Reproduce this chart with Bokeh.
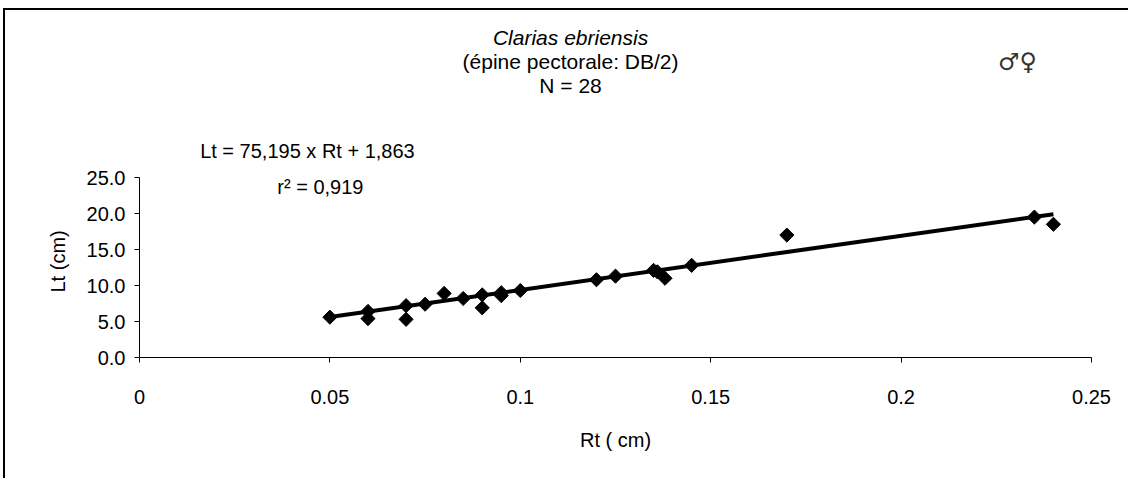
import numpy as np
from bokeh.plotting import figure
from bokeh.layouts import column, row
from bokeh.models import Range1d, FixedTicker, Label, ColumnDataSource, Spacer, Title
from bokeh.embed import file_html
from bokeh.resources import INLINE

# ---- data ----
rt = [0.050, 0.060, 0.060, 0.070, 0.070, 0.075, 0.080, 0.085, 0.090, 0.090,
      0.095, 0.095, 0.100, 0.120, 0.125, 0.135, 0.136, 0.138, 0.145, 0.170,
      0.235, 0.240]
lt = [5.6, 6.4, 5.4, 7.2, 5.3, 7.4, 8.9, 8.2, 8.7, 6.9,
      8.6, 9.0, 9.3, 10.8, 11.3, 12.1, 11.9, 11.0, 12.8, 17.0,
      19.5, 18.5]
slope = 75.195
intercept = 1.863
r_squared = "0,919"
x_ticks = [0, 0.05, 0.1, 0.15, 0.2, 0.25]
x_tick_labels = ["0", "0.05", "0.1", "0.15", "0.2", "0.25"]
y_ticks = [0, 5, 10, 15, 20, 25]
y_tick_labels = ["0.0", "5.0", "10.0", "15.0", "20.0", "25.0"]
title_lines = ["Clarias ebriensis", "(épine pectorale: DB/2)", "N = 28"]
equation = "Lt = 75,195 x Rt + 1,863"
x_title = "Rt ( cm)"
y_title = "Lt (cm)"

FONT = "Liberation Sans"

# layout: the frame reaches the top of the canvas so that the header texts
# can sit inside it; the y axis itself is bounded to 0..25
FRAME_H = 347
AXIS_H = 180
y_top = y_ticks[-1] * FRAME_H / AXIS_H

p = figure(width=1125, height=470, output_backend="svg", toolbar_location=None,
           x_range=Range1d(0, x_ticks[-1]), y_range=Range1d(0, y_top),
           min_border_left=134, min_border_right=39,
           min_border_top=0, min_border_bottom=123)
p.styles = {"border-top": "2px solid black", "border-left": "2px solid black"}
p.background_fill_color = "white"
p.border_fill_color = "white"
p.outline_line_color = None
p.grid.visible = False

for ax in (p.xaxis[0], p.yaxis[0]):
    ax.axis_line_color = "black"
    ax.axis_line_width = 1
    ax.major_tick_line_color = "black"
    ax.major_tick_in = 0
    ax.major_tick_out = 5
    ax.minor_tick_line_color = None
    ax.major_label_text_font = FONT
    ax.major_label_text_font_size = "20px"
    ax.major_label_text_color = "black"
    ax.axis_label_text_font = FONT
    ax.axis_label_text_font_size = "20px"
    ax.axis_label_text_font_style = "normal"
    ax.axis_label_text_color = "black"

p.yaxis.bounds = (y_ticks[0], y_ticks[-1])
p.xaxis.ticker = FixedTicker(ticks=x_ticks)
p.xaxis.major_label_overrides = {t: l for t, l in zip(x_ticks, x_tick_labels)}
p.yaxis.ticker = FixedTicker(ticks=y_ticks)
p.yaxis.major_label_overrides = {t: l for t, l in zip(y_ticks, y_tick_labels)}
p.xaxis.axis_label = x_title
p.xaxis.major_label_standoff = 27
p.xaxis.axis_label_standoff = 22
p.yaxis.major_label_standoff = 9

# y axis title: a left-side Title, placed near the middle of the 0..25 axis
p.add_layout(Title(text=y_title, align="left", offset=65, standoff=29,
                   text_font=FONT, text_font_size="20px",
                   text_font_style="normal", text_color="black"), "left")

# regression line
x_fit = np.array([min(rt), max(rt)])
y_fit = slope * x_fit + intercept
p.line(x_fit, y_fit, line_color="black", line_width=4)

# points
src = ColumnDataSource(dict(x=rt, y=lt))
p.scatter("x", "y", source=src, marker="square", size=10, angle=np.pi / 4,
          fill_color="black", line_color="black")

# header texts
title_y = [44.4, 41.1, 37.8]
for i, (txt, yy) in enumerate(zip(title_lines, title_y)):
    p.add_layout(Label(x=0.1132, y=yy, text=txt,
                       text_font=FONT, text_font_size="21px",
                       text_font_style="italic" if i == 0 else "normal",
                       text_align="center", text_baseline="middle",
                       text_color="black"))

p.add_layout(Label(x=0.0441, y=28.75, text=equation,
                   text_font=FONT, text_font_size="20px", text_align="center",
                   text_baseline="middle", text_color="black"))
p.add_layout(Label(x=0.0475, y=23.75, text="r\u00b2 = " + r_squared,
                   text_font=FONT, text_font_size="20px", text_align="center",
                   text_baseline="middle", text_color="black"))
p.add_layout(Label(x=0.2306, y=41.1, text="\u2642\u2640", text_font="DejaVu Sans",
                   text_font_size="24px", text_align="center",
                   text_baseline="middle", text_color="#333333"))

layout = column(Spacer(height=8), row(Spacer(width=3), p))
open("out.html", "w").write(file_html(layout, INLINE))
